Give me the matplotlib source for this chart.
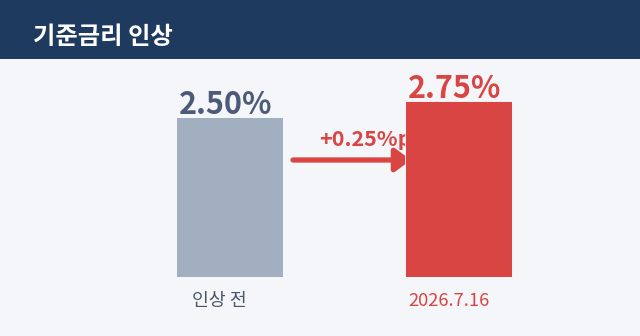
import matplotlib
matplotlib.use("Agg")
import matplotlib.pyplot as plt
from matplotlib.patches import Rectangle

plt.rcParams['font.family'] = ['Noto Sans CJK KR', 'DejaVu Sans']

title = "기준금리 인상"
categories = ["인상 전", "2026.7.16"]
rates = [2.50, 2.75]
value_labels = ["2.50%", "2.75%"]
change_label = "+0.25%p"

bg = "#f5f6fa"
navy = "#1f3a5f"
bar_colors = ["#a2afc0", "#d84542"]
value_colors = ["#4b5b78", "#d84542"]
cat_colors = ["#4b5568", "#d84542"]

W, H = 640, 336
fig = plt.figure(figsize=(6.4, 3.36), dpi=100, facecolor=bg)

# header
fig.patches.append(Rectangle((0, 1 - 59 / H), 1, 59 / H, transform=fig.transFigure,
                             facecolor=navy, edgecolor="none", zorder=0))
fig.text(33 / W, 1 - 37 / H, title, color="white", fontsize=17.5, fontweight="bold",
         va="center", ha="left")

base_px, top_px = 277, 60
ax = fig.add_axes([0, 1 - base_px / H, 1, (base_px - top_px) / H])
ax.set_facecolor("none")
scale = 64.0  # px per unit
ax.set_ylim(0, (base_px - top_px) / scale)
c0, gap = 229.5, 229.0
ax.set_xlim(-c0 / gap, (W - c0) / gap)
ax.axis("off")

xs = list(range(len(rates)))
bw = 107 / gap
ax.bar(xs, rates, width=bw, color=bar_colors, edgecolor="#ffffff", linewidth=0.6, zorder=3)

for x, v, lab, col in zip(xs, rates, value_labels, value_colors):
    ax.text(x - 4 / gap, v + 2.5 / scale, lab, ha="center", va="baseline", fontsize=22,
            fontweight="bold", color=col, zorder=4)

# arrow and change label (behind red bar)
ay = (base_px - 160) / scale
ax.annotate("", xy=((411 - c0) / gap, ay), xytext=((293 - c0) / gap, ay),
            arrowprops=dict(arrowstyle="-|>,head_length=0.95,head_width=0.7",
                            color=bar_colors[1], lw=3.8, shrinkA=0, shrinkB=0),
            zorder=2)
ax.text((319 - c0) / gap, (base_px - 140) / scale, change_label, ha="left", va="center",
        fontsize=15.5, fontweight="bold", color=bar_colors[1], zorder=2)

for x, lab, col in zip(xs, categories, cat_colors):
    ax.text(x - 10 / gap, -(301 - base_px) / scale, lab, ha="center", va="center", fontsize=13.2,
            color=col, clip_on=False)

fig.savefig("out.png", dpi=100, facecolor=bg)
